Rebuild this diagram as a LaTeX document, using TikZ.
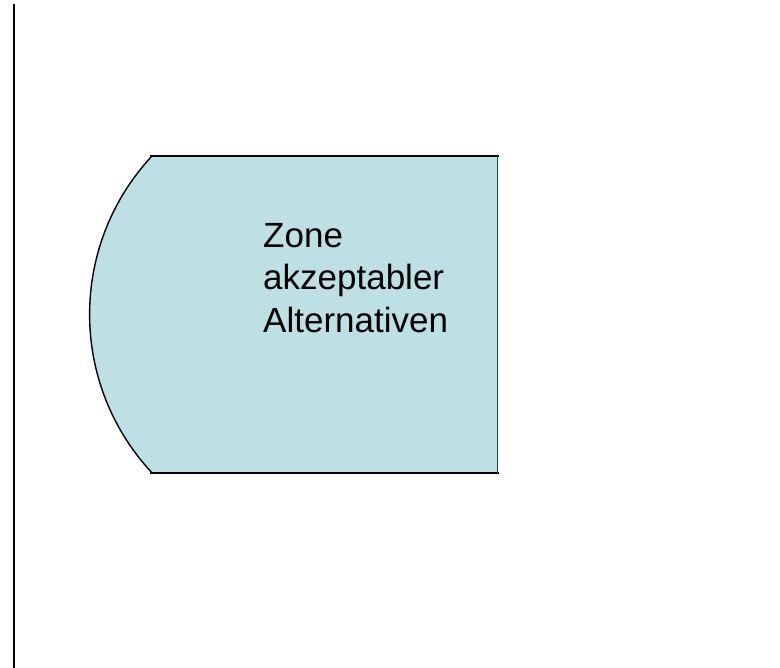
\documentclass[tikz,border=0pt]{standalone}
\usepackage{fontspec}
\setmainfont{Liberation Sans}
\usepackage{tikz}
\definecolor{zonefill}{RGB}{188,224,228}
\definecolor{zoneedge}{RGB}{35,75,80}

\begin{document}
\begin{tikzpicture}[x=1pt,y=1pt]
				\useasboundingbox (0,0) rectangle (780,668);
				\draw[line width=2pt] (14,664)--(14,0);
				\fill[zonefill] (152,512) arc[start angle=137, end angle=223, radius=232.3pt] -- (498,195) -- (498,512) -- cycle;
				\draw[line width=1.4pt] (152,512) arc[start angle=137, end angle=223, radius=232.3pt];
				\draw[line width=2pt] (150,512)--(498.5,512);
				\draw[line width=2pt] (150,195)--(498.5,195);
				\draw[zoneedge, line width=1pt] (497.5,512)--(497.5,195);
				\node[anchor=north west, inner sep=0pt, align=left, font=\fontsize{35}{42.5}\selectfont] (zone) at (263,445) {Zone\\akzeptabler\\Alternativen};
				\end{tikzpicture}
\end{document}
